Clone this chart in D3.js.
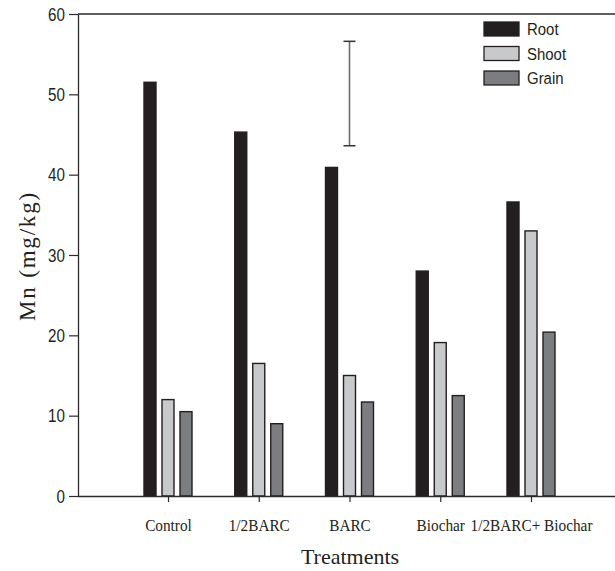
<!DOCTYPE html>
<html>
<head>
<meta charset="utf-8">
<script src="https://cdn.jsdelivr.net/npm/d3@7"></script>
<style>
  html, body { margin: 0; padding: 0; background: #fff; }
  svg { display: block; }
</style>
</head>
<body>
<svg id="chart" width="615" height="571"></svg>
<script>
// Mn content (mg/kg) in root, shoot and grain under each treatment
const categories = ["Control", "1/2BARC", "BARC", "Biochar", "1/2BARC+ Biochar"];
const seriesNames = ["Root", "Shoot", "Grain"];
const rootValues  = [51.5, 45.3, 40.9, 28.0, 36.6];
const shootValues = [12.0, 16.5, 15.0, 19.1, 33.0];
const grainValues = [10.5, 9.0, 11.7, 12.5, 20.4];
const yTicks = [0, 10, 20, 30, 40, 50, 60];
// single whisker drawn over the BARC group
const errorCategory = "BARC";
const errorLow = 43.6;
const errorHigh = 56.6;

const seriesValues = [rootValues, shootValues, grainValues];
const fills = ["#231f20", "#c8c9cb", "#7c7d81"];

const svg = d3.select("#chart");
const plotLeft = 78, plotRight = 615, plotTop = 14, plotBottom = 496;

const y = d3.scaleLinear().domain([0, 60]).range([plotBottom, plotTop]);
const x = d3.scalePoint().domain(categories).range([168, 531]);
const xs = d3.scaleBand().domain(seriesNames).range([-27, 27])
  .paddingInner(1 / 3).paddingOuter(1 / 6);

const axisColor = "#2a2a2a";
const sans = "'Liberation Sans', Arial, sans-serif";
const serif = "'Liberation Serif', 'Times New Roman', serif";

// frame: top line
svg.append("line").attr("x1", plotLeft).attr("x2", plotRight).attr("y1", plotTop).attr("y2", plotTop)
  .attr("stroke", axisColor).attr("stroke-width", 1.3);

// bars
const rows = [];
categories.forEach((c, i) => {
  seriesNames.forEach((s, j) => rows.push({ c, s, j, v: seriesValues[j][i] }));
});
svg.append("g").selectAll("rect").data(rows).join("rect")
  .attr("x", d => x(d.c) + xs(d.s))
  .attr("y", d => y(d.v))
  .attr("width", xs.bandwidth())
  .attr("height", d => y(0) - y(d.v))
  .attr("fill", d => fills[d.j])
  .attr("stroke", "#231f20")
  .attr("stroke-width", 1.4);

// whisker
const ex = x(errorCategory);
const eg = svg.append("g");
eg.append("line").attr("x1", ex).attr("x2", ex).attr("y1", y(errorHigh)).attr("y2", y(errorLow))
  .attr("stroke", "#6b6b6b").attr("stroke-width", 1.6);
[errorHigh, errorLow].forEach(v => {
  eg.append("line").attr("x1", ex - 6).attr("x2", ex + 6).attr("y1", y(v)).attr("y2", y(v))
    .attr("stroke", "#333").attr("stroke-width", 1.5);
});

// y axis (condensed tick labels)
const yAxis = svg.append("g").attr("transform", `translate(${plotLeft},0)`)
  .call(d3.axisLeft(y).tickValues(yTicks).tickSize(9).tickPadding(4).tickSizeOuter(0));
yAxis.select(".domain").attr("stroke", axisColor).attr("stroke-width", 1.3);
yAxis.selectAll(".tick line").attr("stroke", axisColor).attr("stroke-width", 1.2);
yAxis.selectAll(".tick text")
  .attr("x", 0)
  .attr("transform", "translate(-13,0) scale(0.8,1)")
  .attr("font-family", sans)
  .attr("font-size", 19).attr("fill", "#231f20");

// x axis
const xAxis = svg.append("g").attr("transform", `translate(0,${plotBottom})`)
  .call(d3.axisBottom(x).tickSize(6).tickPadding(17).tickSizeOuter(0));
xAxis.select(".domain").attr("d", `M${plotLeft},0.5H${plotRight}`).attr("stroke", axisColor).attr("stroke-width", 1.3);
xAxis.selectAll(".tick line").attr("stroke", axisColor).attr("stroke-width", 1.2);
xAxis.selectAll(".tick text")
  .attr("transform", "scale(0.9,1)")
  .attr("font-family", serif)
  .attr("font-size", 17).attr("fill", "#231f20");

// axis titles
svg.append("text")
  .attr("transform", `translate(35,256) rotate(-90)`)
  .attr("text-anchor", "middle")
  .attr("font-family", serif)
  .attr("font-size", 23).attr("letter-spacing", 1.8).attr("fill", "#231f20")
  .text("Mn (mg/kg)");
svg.append("text")
  .attr("x", 350).attr("y", 564)
  .attr("text-anchor", "middle")
  .attr("font-family", serif)
  .attr("font-size", 22).attr("fill", "#231f20")
  .text("Treatments");

// legend
const legend = svg.append("g").attr("transform", "translate(484,22)");
seriesNames.forEach((s, j) => {
  const g = legend.append("g").attr("transform", `translate(0,${j * 24.5})`);
  g.append("rect").attr("width", 35).attr("height", 14)
    .attr("fill", fills[j]).attr("stroke", "#231f20").attr("stroke-width", 1.3);
  g.append("text")
    .attr("transform", "translate(43,13) scale(0.88,1)")
    .attr("font-family", sans)
    .attr("font-size", 17).attr("fill", "#231f20")
    .text(s);
});
</script>
</body>
</html>
